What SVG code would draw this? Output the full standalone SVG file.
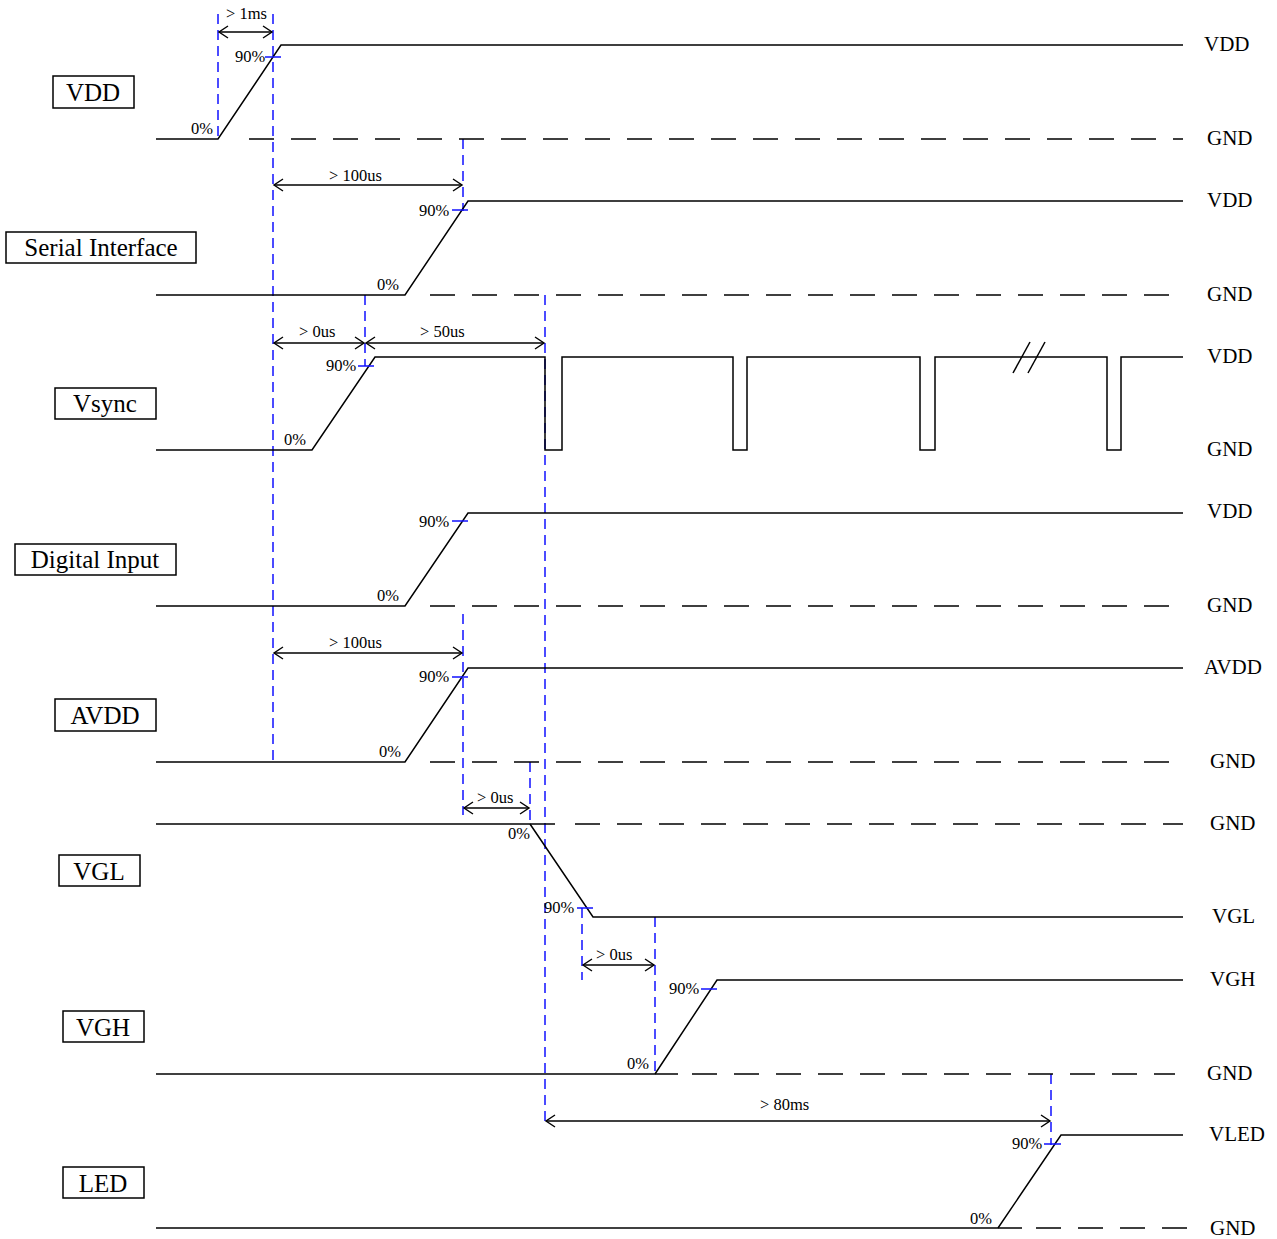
<svg xmlns="http://www.w3.org/2000/svg" width="1277" height="1239" viewBox="0 0 1277 1239">
<defs>
<marker id="ah" markerUnits="userSpaceOnUse" markerWidth="12" markerHeight="14" viewBox="0 0 12 14" refX="10" refY="7" orient="auto-start-reverse">
<path d="M1,1 L10,7 L1,13" fill="none" stroke="#000" stroke-width="1.4"/>
</marker>
</defs>
<style>
.box{fill:#fff;stroke:#000;stroke-width:1.5}
.bt{font-family:"Liberation Serif",serif;font-size:25px;fill:#000;text-anchor:middle}
.rt{font-family:"Liberation Serif",serif;font-size:21px;fill:#000}
.pt{font-family:"Liberation Serif",serif;font-size:16.5px;fill:#000}
.at{font-family:"Liberation Serif",serif;font-size:16.5px;fill:#000}
.sig{fill:none;stroke:#000;stroke-width:1.5}
.gnd{fill:none;stroke:#000;stroke-width:1.5;stroke-dasharray:25 17}
.bl{fill:none;stroke:#1010ff;stroke-width:1.5;stroke-dasharray:10 6}
.tk{fill:none;stroke:#1010ff;stroke-width:1.5}
.arr{fill:none;stroke:#000;stroke-width:1.3;marker-start:url(#ah);marker-end:url(#ah)}
</style>
<rect width="1277" height="1239" fill="#fff"/>

<g id="connectors">
<line class="bl" x1="218" y1="14" x2="218" y2="139"/>
<line class="bl" x1="273" y1="14" x2="273" y2="762"/>
<line class="bl" x1="463" y1="139" x2="463" y2="211"/>
<line class="bl" x1="365" y1="295" x2="365" y2="366"/>
<line class="bl" x1="545" y1="295" x2="545" y2="1122"/>
<line class="bl" x1="463" y1="614" x2="463" y2="815"/>
<line class="bl" x1="530" y1="762" x2="530" y2="824"/>
<line class="bl" x1="582" y1="908" x2="582" y2="980"/>
<line class="bl" x1="655" y1="917" x2="655" y2="1074"/>
<line class="bl" x1="1051" y1="1074" x2="1051" y2="1145"/>
<line class="arr" x1="219" y1="32" x2="272" y2="32"/>
<text class="at" x="226" y="19">&gt; 1ms</text>
<line class="arr" x1="274" y1="185" x2="462" y2="185"/>
<text class="at" x="329" y="181">&gt; 100us</text>
<line class="arr" x1="274" y1="343" x2="364" y2="343"/>
<text class="at" x="299" y="337">&gt; 0us</text>
<line class="arr" x1="366" y1="343" x2="544" y2="343"/>
<text class="at" x="420" y="337">&gt; 50us</text>
<line class="arr" x1="274" y1="653" x2="462" y2="653"/>
<text class="at" x="329" y="648">&gt; 100us</text>
<line class="arr" x1="464" y1="808" x2="529" y2="808"/>
<text class="at" x="477" y="803">&gt; 0us</text>
<line class="arr" x1="583" y1="965" x2="654" y2="965"/>
<text class="at" x="596" y="960">&gt; 0us</text>
<line class="arr" x1="546" y1="1121" x2="1050" y2="1121"/>
<text class="at" x="760" y="1110">&gt; 80ms</text>
</g>

<g id="vdd">
<rect class="box" x="53" y="76" width="81" height="32"/>
<text class="bt" x="93" y="101">VDD</text>
<polyline class="sig" points="156,139 218,139 281,45 1183,45"/>
<line class="gnd" x1="249" y1="139" x2="1183" y2="139"/>
<line class="tk" x1="265" y1="57" x2="281" y2="57"/>
<text class="pt" x="235" y="62">90%</text>
<text class="pt" x="191" y="134">0%</text>
<text class="rt" x="1204" y="51">VDD</text>
<text class="rt" x="1207" y="145">GND</text>
</g>

<g id="serial">
<rect class="box" x="6" y="232" width="190" height="31"/>
<text class="bt" x="101" y="256">Serial Interface</text>
<polyline class="sig" points="156,295 405,295 468,201 1183,201"/>
<line class="gnd" x1="430" y1="295" x2="1183" y2="295"/>
<line class="tk" x1="452" y1="210" x2="468" y2="210"/>
<text class="pt" x="419" y="216">90%</text>
<text class="pt" x="377" y="290">0%</text>
<text class="rt" x="1207" y="207">VDD</text>
<text class="rt" x="1207" y="301">GND</text>
</g>

<g id="vsync">
<rect class="box" x="55" y="388" width="101" height="31"/>
<text class="bt" x="105" y="412">Vsync</text>
<polyline class="sig" points="156,450 312,450 375,357 545,357 545,450 562,450 562,357 733,357 733,450 747,450 747,357 920,357 920,450 935,450 935,357 1107,357 1107,450 1121,450 1121,357 1183,357"/>
<line class="sig" x1="1013" y1="373" x2="1030" y2="342"/>
<line class="sig" x1="1028" y1="373" x2="1045" y2="342"/>
<line class="tk" x1="358" y1="366" x2="374" y2="366"/>
<text class="pt" x="326" y="371">90%</text>
<text class="pt" x="284" y="445">0%</text>
<text class="rt" x="1207" y="363">VDD</text>
<text class="rt" x="1207" y="456">GND</text>
</g>

<g id="digital">
<rect class="box" x="15" y="544" width="161" height="31"/>
<text class="bt" x="95" y="568">Digital Input</text>
<polyline class="sig" points="156,606 405,606 468,513 1183,513"/>
<line class="gnd" x1="430" y1="606" x2="1183" y2="606"/>
<line class="tk" x1="452" y1="521" x2="468" y2="521"/>
<text class="pt" x="419" y="527">90%</text>
<text class="pt" x="377" y="601">0%</text>
<text class="rt" x="1207" y="518">VDD</text>
<text class="rt" x="1207" y="612">GND</text>
</g>

<g id="avdd">
<rect class="box" x="55" y="699" width="101" height="32"/>
<text class="bt" x="105" y="724">AVDD</text>
<polyline class="sig" points="156,762 405,762 468,668 1183,668"/>
<line class="gnd" x1="430" y1="762" x2="1183" y2="762"/>
<line class="tk" x1="452" y1="677" x2="468" y2="677"/>
<text class="pt" x="419" y="682">90%</text>
<text class="pt" x="379" y="757">0%</text>
<text class="rt" x="1204" y="674">AVDD</text>
<text class="rt" x="1210" y="768">GND</text>
</g>

<g id="vgl">
<rect class="box" x="59" y="855" width="81" height="31"/>
<text class="bt" x="99" y="880">VGL</text>
<polyline class="sig" points="156,824 555,824"/>
<polyline class="sig" points="530,824 593,917 1183,917"/>
<line class="gnd" x1="575" y1="824" x2="1183" y2="824"/>
<line class="tk" x1="577" y1="908" x2="593" y2="908"/>
<text class="pt" x="544" y="913">90%</text>
<text class="pt" x="508" y="839">0%</text>
<text class="rt" x="1210" y="830">GND</text>
<text class="rt" x="1212" y="923">VGL</text>
</g>

<g id="vgh">
<rect class="box" x="63" y="1011" width="81" height="31"/>
<text class="bt" x="103" y="1036">VGH</text>
<polyline class="sig" points="156,1074 678,1074"/>
<polyline class="sig" points="655,1074 717,980 1183,980"/>
<line class="gnd" x1="692" y1="1074" x2="1175" y2="1074"/>
<line class="tk" x1="701" y1="989" x2="717" y2="989"/>
<text class="pt" x="669" y="994">90%</text>
<text class="pt" x="627" y="1069">0%</text>
<text class="rt" x="1210" y="986">VGH</text>
<text class="rt" x="1207" y="1080">GND</text>
</g>

<g id="led">
<rect class="box" x="63" y="1167" width="81" height="31"/>
<text class="bt" x="103" y="1192">LED</text>
<polyline class="sig" points="156,1228 1022,1228"/>
<polyline class="sig" points="998,1228 1061,1135 1183,1135"/>
<line class="gnd" x1="1036" y1="1228" x2="1195" y2="1228"/>
<line class="tk" x1="1044" y1="1144" x2="1061" y2="1144"/>
<text class="pt" x="1012" y="1149">90%</text>
<text class="pt" x="970" y="1224">0%</text>
<text class="rt" x="1209" y="1141">VLED</text>
<text class="rt" x="1210" y="1235">GND</text>
</g>
</svg>
